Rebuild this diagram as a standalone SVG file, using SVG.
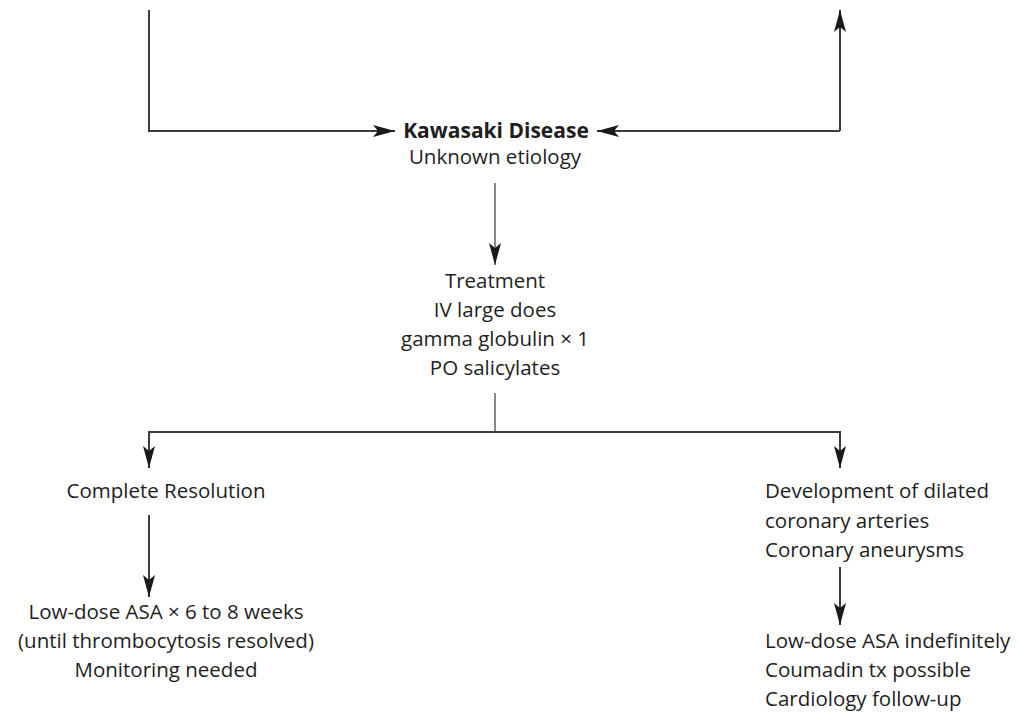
<svg xmlns="http://www.w3.org/2000/svg" width="1019" height="718" viewBox="0 0 1019 718">
  <defs>
    <marker id="arr" markerUnits="userSpaceOnUse" markerWidth="24" markerHeight="14" refX="22" refY="6" orient="auto">
      <path d="M0,0 L22,6 L0,12 L5,6 Z" fill="#1a1a1a"/>
    </marker>
    <style>
      .ln { fill: none; stroke: #3c3c3c; stroke-width: 2; }
      .lt { fill: none; stroke: #888; stroke-width: 2; }
      text { font-family: "Open Sans", "Noto Sans", sans-serif; font-size: 20.5px; fill: #1e1e1e; }
      .c { text-anchor: middle; }
      .b { font-weight: bold; font-size: 21px; }
    </style>
  </defs>

  <g id="connectors">
    <polyline class="ln" points="149,10 149,131 395,131" marker-end="url(#arr)"/>
    <polyline class="ln" points="840,131 597,131" marker-end="url(#arr)"/>
    <polyline class="ln" points="840,131 840,10" marker-end="url(#arr)"/>
    <line class="lt" x1="495" y1="183" x2="495" y2="265" marker-end="url(#arr)"/>
    <line class="lt" x1="495" y1="393" x2="495" y2="432"/>
    <polyline class="ln" points="149,468 149,432 840,432 840,468"/>
    <line class="ln" x1="149" y1="440" x2="149" y2="468" marker-end="url(#arr)"/>
    <line class="ln" x1="840" y1="440" x2="840" y2="468" marker-end="url(#arr)"/>
    <line class="ln" x1="149" y1="515" x2="149" y2="597" marker-end="url(#arr)"/>
    <line class="ln" x1="840" y1="567" x2="840" y2="625" marker-end="url(#arr)"/>
  </g>

  <g id="kawasaki">
    <text class="c b" x="496" y="138">Kawasaki Disease</text>
    <text class="c" x="495" y="164">Unknown etiology</text>
  </g>

  <g id="treatment">
    <text class="c" x="495" y="288">Treatment</text>
    <text class="c" x="495" y="317">IV large does</text>
    <text class="c" x="495" y="346">gamma globulin × 1</text>
    <text class="c" x="495" y="375">PO salicylates</text>
  </g>

  <g id="resolution">
    <text class="c" x="166" y="498">Complete Resolution</text>
  </g>

  <g id="low-dose-short">
    <text class="c" x="166" y="619">Low-dose ASA × 6 to 8 weeks</text>
    <text class="c" x="166" y="648">(until thrombocytosis resolved)</text>
    <text class="c" x="166" y="677">Monitoring needed</text>
  </g>

  <g id="dilated">
    <text x="765" y="498">Development of dilated</text>
    <text x="765" y="528">coronary arteries</text>
    <text x="765" y="557">Coronary aneurysms</text>
  </g>

  <g id="low-dose-long">
    <text x="765" y="648">Low-dose ASA indefinitely</text>
    <text x="765" y="677">Coumadin tx possible</text>
    <text x="765" y="706">Cardiology follow-up</text>
  </g>
</svg>
